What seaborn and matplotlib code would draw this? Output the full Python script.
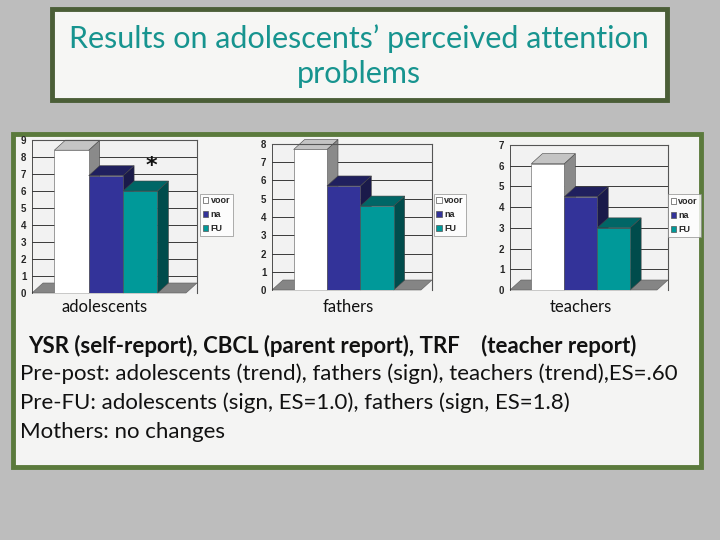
import matplotlib
matplotlib.use('Agg')
import matplotlib.pyplot as plt
from matplotlib.patches import Rectangle, Polygon
import seaborn as sns
import pandas as pd

# data
groups = ['adolescents', 'fathers', 'teachers']
series = ['voor', 'na', 'FU']
voor = [8.4, 7.7, 6.1]
na = [6.9, 5.7, 4.5]
fu = [6.0, 4.6, 3.0]
ymax = [9, 8, 7]

title = 'Results on adolescents\u2019 perceived attention\nproblems'
note_head = 'YSR (self-report), CBCL (parent report), TRF    (teacher report)'
notes = ['Pre-post: adolescents (trend), fathers (sign), teachers (trend),ES=.60',
         'Pre-FU: adolescents (sign, ES=1.0), fathers (sign, ES=1.8)',
         'Mothers: no changes']

front = {'voor': '#ffffff', 'na': '#333399', 'FU': '#009999'}
top = {'voor': '#c4c4c4', 'na': '#20205e', 'FU': '#006666'}
side = {'voor': '#8a8a8a', 'na': '#1a1a4a', 'FU': '#004c4c'}

W, H = 720, 540
sns.set_style('white')
plt.rcParams['font.family'] = ['Lato', 'DejaVu Sans']
fig = plt.figure(figsize=(W / 100, H / 100), dpi=100)
fig.patch.set_facecolor('#bdbdbd')


def fx(px):
    return px / W


def fy(py):
    return 1 - py / H


def box(x0, y0, x1, y1, fc, ec, lw):
    fig.patches.append(Rectangle((fx(x0), fy(y1)), fx(x1 - x0), (y1 - y0) / H,
                                 transform=fig.transFigure, facecolor=fc,
                                 edgecolor=ec, linewidth=lw, zorder=-5))


# title panel and content panel
box(52, 9, 667, 100, '#f6f6f4', '#4b5e37', 3.5)
box(13, 134, 701, 467, '#f4f4f3', '#5b7a3c', 3.5)

fig.text(fx(359), fy(56), title, ha='center', va='center', fontsize=22,
         color='#17948f', linespacing=1.3)

# plot areas in pixels: left, top, right, bottom
areas = [(32, 140, 197, 293), (272, 144, 432, 290), (510, 145, 668, 290)]
label_x = [105, 348, 581]
legend_anchor = [(1.02, 0.65), (1.01, 0.66), (1.0, 0.66)]
xlim = (-1.15, 3.65)
depth_px = (11, 10)

for i, g in enumerate(groups):
    l, t, r, b = areas[i]
    ax = fig.add_axes([fx(l), fy(b), fx(r - l), (b - t) / H])
    ax.set_zorder(2)
    df = pd.DataFrame({'series': series, 'value': [voor[i], na[i], fu[i]]})
    sns.barplot(data=df, x='series', y='value', hue='series', palette=front,
                width=1.0, legend=False, ax=ax, edgecolor='#555555',
                linewidth=0.4, saturation=1)
    ax.set_xlim(*xlim)
    ax.set_ylim(0, ymax[i])
    ax.set_facecolor('#f2f2f2')
    dx = depth_px[0] * (xlim[1] - xlim[0]) / (r - l)
    dy = depth_px[1] * ymax[i] / (b - t)

    # floor
    ax.add_patch(Polygon([(xlim[0], 0), (xlim[0] + dx, dy), (xlim[1], dy),
                          (xlim[1] - dx, 0)], closed=True, facecolor='#858585',
                         edgecolor='#5a5a5a', lw=0.4, zorder=1, clip_on=False))

    # 3d look for each bar
    for k, p in enumerate(ax.patches[:3]):
        x0, w, h = p.get_x(), p.get_width(), p.get_height()
        s = series[k]
        p.set_zorder(3 + k)
        ax.add_patch(Polygon([(x0 + w, 0), (x0 + w + dx, dy), (x0 + w + dx, h + dy),
                              (x0 + w, h)], closed=True, facecolor=side[s],
                             edgecolor='#444444', lw=0.4, zorder=2.5 + k, clip_on=False))
        ax.add_patch(Polygon([(x0, h), (x0 + dx, h + dy), (x0 + w + dx, h + dy),
                              (x0 + w, h)], closed=True, facecolor=top[s],
                             edgecolor='#444444', lw=0.4, zorder=2.5 + k, clip_on=False))
        if i == 0 and s == 'FU':
            ax.text(x0 + w / 2 + dx, h + 1.45, '*', ha='center', va='center',
                    fontsize=16, fontweight='bold', color='#111111',
                    family='DejaVu Sans', zorder=10)

    ax.set_yticks(range(ymax[i] + 1))
    ax.yaxis.grid(True, color='#3a3a3a', lw=0.7)
    ax.set_axisbelow(True)
    ax.set_xticks([])
    ax.set_xlabel('')
    ax.set_ylabel('')
    ax.tick_params(axis='y', length=2, width=0.6, pad=2, labelsize=7)
    for lab in ax.get_yticklabels():
        lab.set_fontweight('bold')
        lab.set_family('Liberation Sans')
    for sp in ['top', 'right']:
        ax.spines[sp].set_color('#555555')
        ax.spines[sp].set_linewidth(0.8)
    ax.spines['left'].set_color('#333333')
    ax.spines['left'].set_linewidth(0.6)
    ax.spines['bottom'].set_visible(False)

    handles = [Rectangle((0, 0), 1, 1, facecolor=front[s], edgecolor='#555555', lw=0.5)
               for s in series]
    leg = ax.legend(handles, series, loc='upper left', bbox_to_anchor=legend_anchor[i],
                    frameon=True, fancybox=False, handlelength=0.6,
                    handleheight=0.6, handletextpad=0.25, borderpad=0.3,
                    labelspacing=0.55, borderaxespad=0,
                    prop={'family': 'Liberation Sans', 'weight': 'bold', 'size': 6.5})
    leg.get_frame().set_edgecolor('#888888')
    leg.get_frame().set_linewidth(0.6)

    fig.text(fx(label_x[i]), fy(307), g, ha='center', va='center', fontsize=12,
             color='#111111', zorder=3)

fig.text(fx(28), fy(346), note_head, ha='left', va='center', fontsize=16,
         fontweight='bold', color='#111111')
for j, line in enumerate(notes):
    fig.text(fx(20), fy(374 + 29 * j), line, ha='left', va='center', fontsize=16,
             color='#111111')

fig.savefig('out.png', dpi=100, facecolor=fig.get_facecolor())
